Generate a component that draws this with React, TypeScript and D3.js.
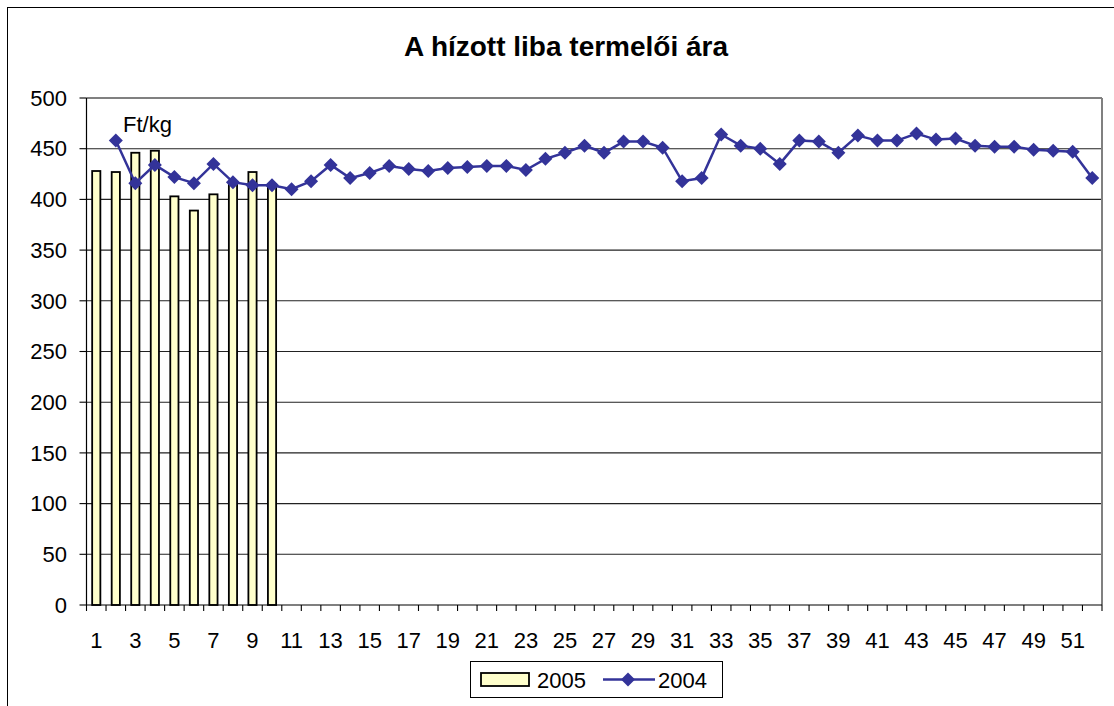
import * as d3 from 'd3';

// 2005 weekly producer price (Ft/kg), only first 10 weeks known
const weeks = d3.range(1, 53);
const price2005 = [428, 427, 446, 448, 403, 389, 405, 416, 427, 415];
const price2004: (number | null)[] = [
  null, 458, 416, 434, 422, 416, 435, 417, 414, 414,
  410, 418, 434, 421, 426, 433, 430, 428, 431, 432,
  433, 433, 429, 440, 446, 453, 446, 457, 457, 451,
  418, 421, 464, 453, 450, 435, 458, 457, 446, 463,
  458, 458, 465, 459, 460, 453, 452, 452, 449, 448,
  447, 421,
];
const yTicks = [0, 50, 100, 150, 200, 250, 300, 350, 400, 450, 500];

const W = 1114;
const H = 706;
const FONT = '"Liberation Sans", Arial, sans-serif';
const LINE = '#333399';
const BAR = '#FFFFCC';

export default function App() {
  const left = 86.5;
  const right = 1102;
  const top = 98;
  const bottom = 605;

  const x = d3.scaleBand<number>().domain(weeks).range([left, right]).padding(0);
  const y = d3.scaleLinear().domain([0, 500]).range([bottom, top]);
  const bw = x.bandwidth();
  const barW = bw * 0.42;

  const linePts = price2004
    .map((v, i) => ({ w: weeks[i], v }))
    .filter(d => d.v != null) as { w: number; v: number }[];

  const lineGen = d3
    .line<{ w: number; v: number }>()
    .x(d => x(d.w)! + bw / 2)
    .y(d => y(d.v));

  const diamond = (cx: number, cy: number, r = 7) =>
    `M${cx},${cy - r}L${cx + r},${cy}L${cx},${cy + r}L${cx - r},${cy}Z`;

  const tickXs = weeks.map(w => x(w)!).concat([right]);

  return (
    <svg
      width={W}
      height={H}
      style={{ position: 'absolute', left: 0, top: 0, background: '#fff' }}
      fontFamily={FONT}
    >
      {/* chart frame */}
      <rect x={7.5} y={7.5} width={W + 10} height={H + 10} fill="#fff" stroke="#000" strokeWidth={1} />

      <text x={566} y={56} textAnchor="middle" fontSize={28} fontWeight="bold" fill="#000">
        A hízott liba termelői ára
      </text>

      {/* gridlines */}
      {yTicks.filter(t => t > 0 && t < 500).map(t => (
        <line key={t} x1={left} x2={right} y1={y(t)} y2={y(t)} stroke="#222" strokeWidth={1.1} />
      ))}
      {/* plot area border */}
      <line x1={left} x2={right} y1={y(500)} y2={y(500)} stroke="#808080" strokeWidth={2} />
      <line x1={right} x2={right} y1={top} y2={bottom} stroke="#808080" strokeWidth={2} />

      {/* bars 2005 */}
      {price2005.map((v, i) => (
        <rect
          key={i}
          x={x(weeks[i])! + bw / 2 - barW / 2}
          y={y(v)}
          width={barW}
          height={bottom - y(v)}
          fill={BAR}
          stroke="#000"
          strokeWidth={1.8}
        />
      ))}

      {/* axes */}
      <line x1={left} x2={left} y1={top} y2={bottom} stroke="#000" strokeWidth={1.2} />
      <line x1={left} x2={right} y1={bottom} y2={bottom} stroke="#000" strokeWidth={1.2} />
      {yTicks.map(t => (
        <g key={t}>
          <line x1={left - 7} x2={left} y1={y(t)} y2={y(t)} stroke="#000" strokeWidth={1.1} />
          <text x={67} y={y(t)} dy="0.35em" textAnchor="end" fontSize={22} fill="#000">
            {t}
          </text>
        </g>
      ))}
      {tickXs.map((tx, i) => (
        <line key={i} x1={tx} x2={tx} y1={bottom} y2={bottom + 6} stroke="#000" strokeWidth={1.1} />
      ))}
      {weeks.filter(w => w % 2 === 1).map(w => (
        <text key={w} x={x(w)! + bw / 2} y={648} textAnchor="middle" fontSize={22} fill="#000">
          {w}
        </text>
      ))}

      {/* line 2004 */}
      <path d={lineGen(linePts) ?? ''} fill="none" stroke={LINE} strokeWidth={2.5} />
      {linePts.map(d => (
        <path key={d.w} d={diamond(x(d.w)! + bw / 2, y(d.v))} fill={LINE} />
      ))}

      <text x={123} y={132} fontSize={22} fill="#000">
        Ft/kg
      </text>

      {/* legend */}
      <rect x={470.5} y={661.5} width={252} height={36} fill="#fff" stroke="#000" strokeWidth={1} />
      <rect x={481} y={673} width={48} height={13} fill={BAR} stroke="#000" strokeWidth={1.8} />
      <text x={537} y={688} fontSize={22} fill="#000">2005</text>
      <line x1={603} x2={655} y1={679.5} y2={679.5} stroke={LINE} strokeWidth={2.5} />
      <path d={diamond(628, 679.5)} fill={LINE} />
      <text x={658} y={688} fontSize={22} fill="#000">2004</text>
    </svg>
  );
}
